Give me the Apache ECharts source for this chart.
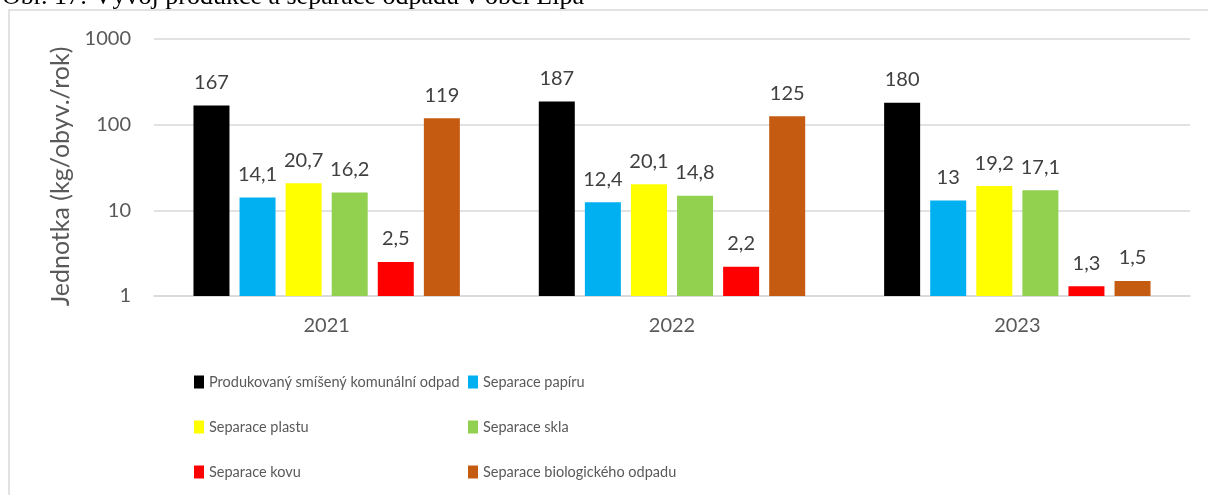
<!DOCTYPE html>
<html>
<head>
<meta charset="utf-8">
<script src="https://cdn.jsdelivr.net/npm/echarts@6/dist/echarts.min.js"></script>
<style>
html,body{margin:0;padding:0;background:#fff;}
#chart{width:1208px;height:495px;}
</style>
</head>
<body>
<div id="chart"></div>
<script>
const titleText = 'Obr. 17: Vývoj produkce a separace odpadu v obci Lípa';
const yAxisName = 'Jednotka (kg/obyv./rok)';
const categories = ['2021', '2022', '2023'];
const seriesNames = [
  'Produkovaný smíšený komunální odpad',
  'Separace papíru',
  'Separace plastu',
  'Separace skla',
  'Separace kovu',
  'Separace biologického odpadu'
];
const smiseny = [167, 187, 180];
const papir = [14.1, 12.4, 13];
const plast = [20.7, 20.1, 19.2];
const sklo = [16.2, 14.8, 17.1];
const kov = [2.5, 2.2, 1.3];
const bio = [119, 125, 1.5];
const seriesValues = [smiseny, papir, plast, sklo, kov, bio];
const colors = ['#000000', '#00b0f0', '#ffff00', '#92d050', '#ff0000', '#c55a11'];
const yMin = 1, yMax = 1000;

const fmt = v => String(v).replace('.', ',');
const FONT = 'Lato, "Open Sans", sans-serif';

const chart = echarts.init(document.getElementById('chart'));
chart.setOption({
  animation: false,
  backgroundColor: '#ffffff',
  color: colors,
  graphic: [
    {
      type: 'rect', z: 0, silent: true,
      shape: {x: 9, y: 10, width: 1300, height: 600},
      style: {fill: 'none', stroke: '#d9d9d9', lineWidth: 1.5}
    },
    {
      type: 'text', z: 10, silent: true,
      style: {
        x: 2, y: 10, text: titleText,
        font: '26px "Liberation Serif", "Times New Roman", serif',
        fill: '#000000', textVerticalAlign: 'bottom'
      }
    }
  ],
  grid: {left: 154, right: 18, top: 39, bottom: 199, containLabel: false},
  legend: {
    data: seriesNames,
    left: 194, top: 360, width: 550,
    padding: 0,
    orient: 'horizontal',
    icon: 'rect',
    itemWidth: 10, itemHeight: 13,
    itemGap: 1,
    textStyle: {
      fontFamily: FONT, fontSize: 14.5, color: '#595959',
      width: 258, overflow: 'none', lineHeight: 44
    }
  },
  xAxis: {
    type: 'category',
    data: categories,
    axisLine: {show: true, lineStyle: {color: '#d9d9d9', width: 1.5}},
    axisTick: {show: false},
    axisLabel: {fontFamily: FONT, fontSize: 20, color: '#595959', margin: 20}
  },
  yAxis: {
    type: 'log',
    logBase: 10,
    min: yMin, max: yMax,
    name: yAxisName,
    nameLocation: 'middle',
    nameGap: 80,
    nameTextStyle: {fontFamily: FONT, fontSize: 25, color: '#595959', padding: [0, 18, 0, 0]},
    axisLine: {show: false},
    axisTick: {show: false},
    splitLine: {lineStyle: {color: '#d9d9d9', width: 1.5}},
    axisLabel: {
      fontFamily: FONT, fontSize: 20, color: '#595959', margin: 23,
      formatter: v => String(Math.round(v))
    }
  },
  series: seriesNames.map((name, i) => ({
    name: name,
    type: 'bar',
    data: seriesValues[i],
    barWidth: 36,
    barGap: '28%',
    itemStyle: {color: colors[i]},
    label: {
      show: true, position: 'top', distance: 13,
      fontFamily: FONT, fontSize: 20, color: '#404040',
      formatter: p => fmt(p.value)
    }
  }))
});
</script>
</body>
</html>
